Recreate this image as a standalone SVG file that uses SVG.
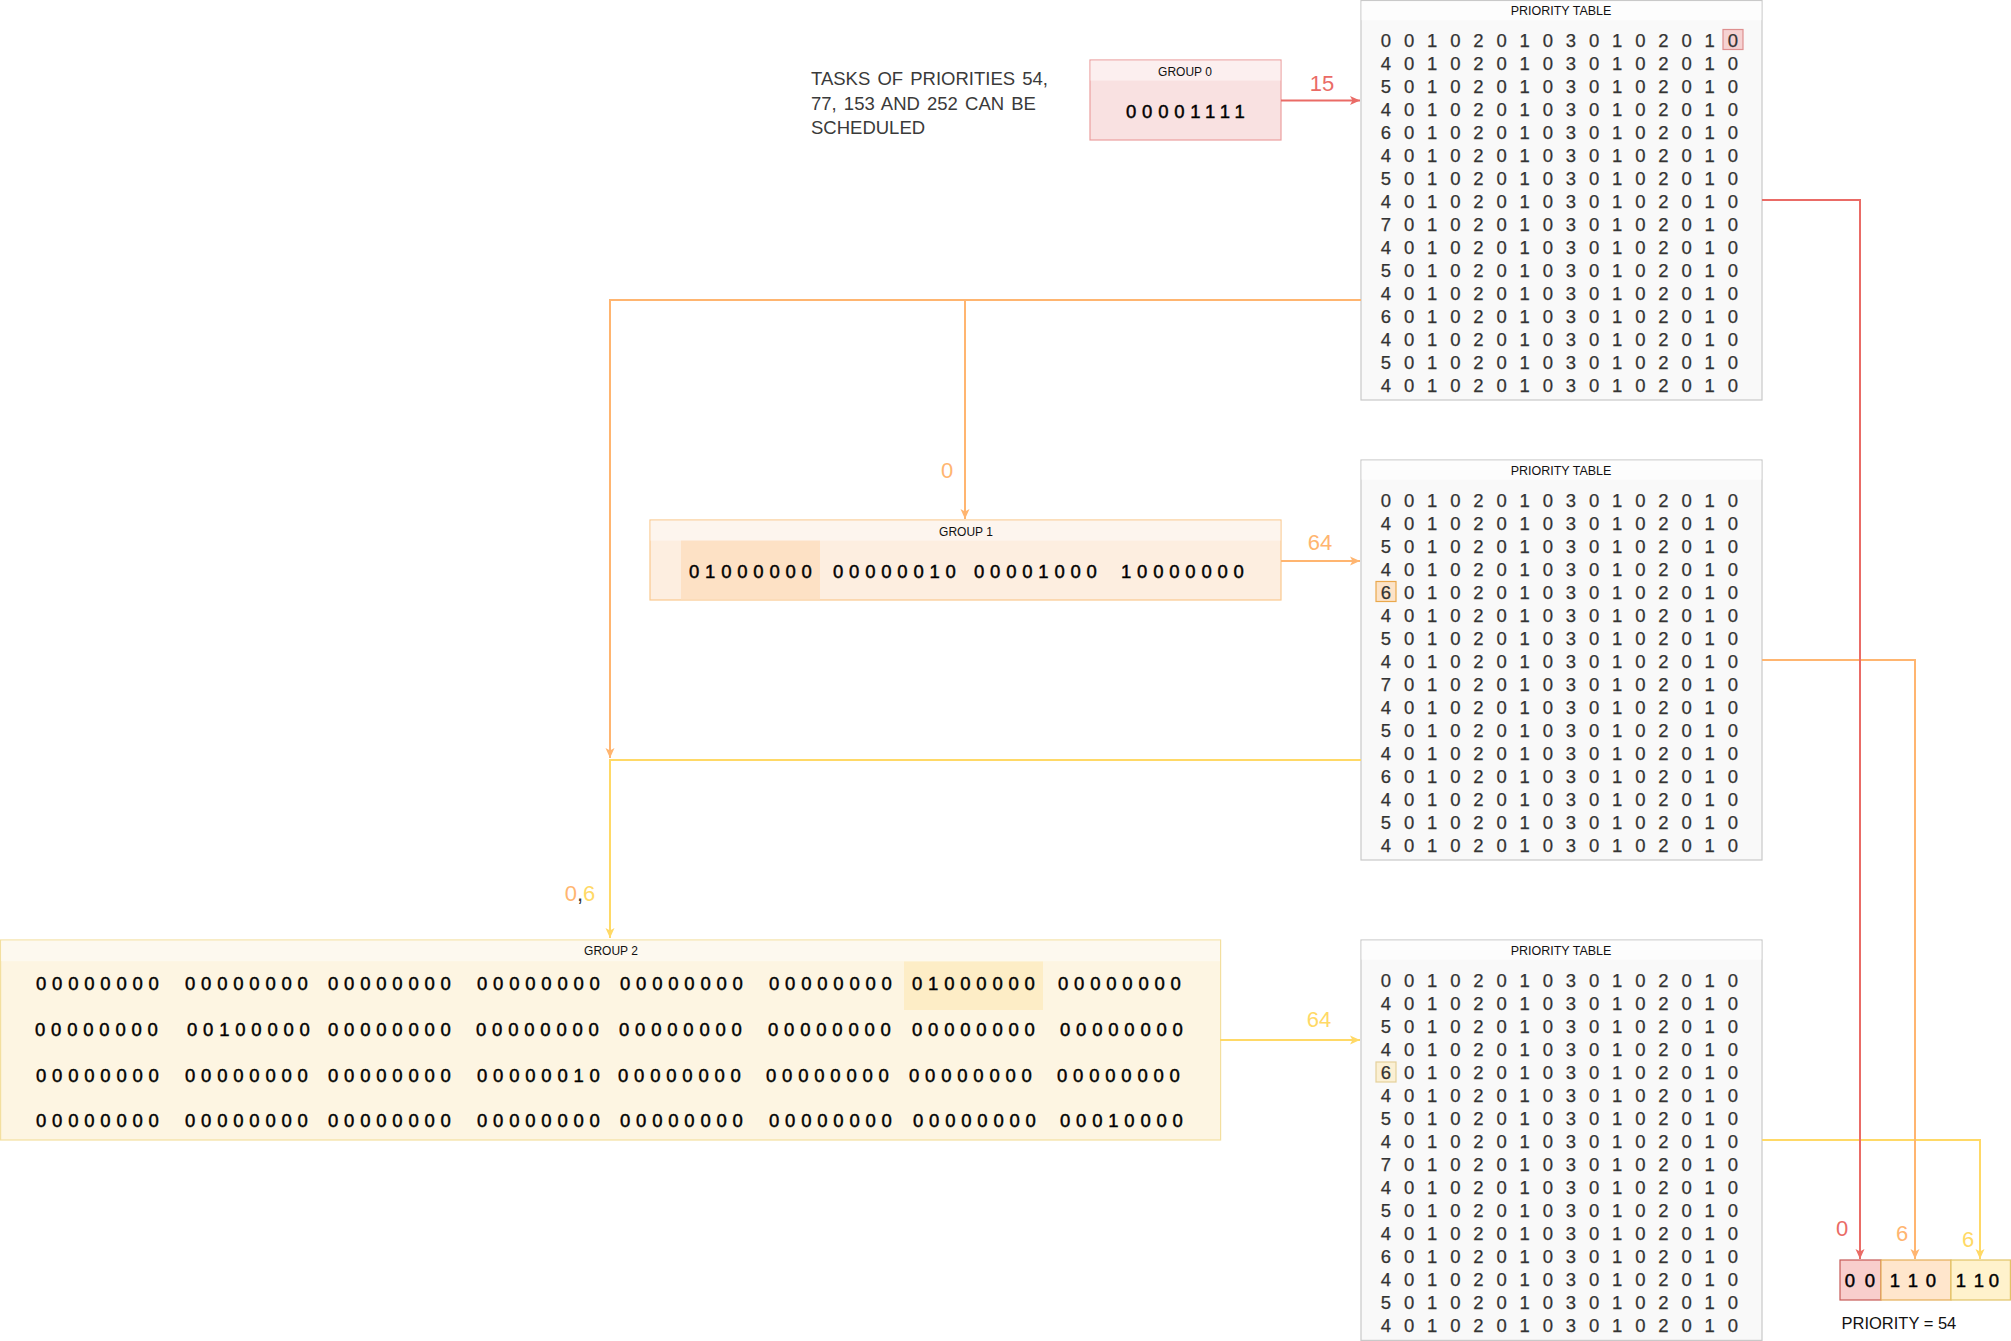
<svg xmlns="http://www.w3.org/2000/svg" width="2011" height="1341" viewBox="0 0 2011 1341">
<style>
text{font-family:"Liberation Sans",Arial,sans-serif}
.tbl{fill:#f9f9f9;stroke:#c9c9c9;stroke-width:1.2}
.tblh{fill:#fdfdfd}
.hdr{font-size:12.5px;fill:#111;text-anchor:middle}
.d{font-size:18.5px;fill:#333;text-anchor:middle;stroke:#333;stroke-width:0.25}
.bits{font-size:18.5px;fill:#000;letter-spacing:5.8px;stroke:#000;stroke-width:0.45}
.note{font-size:18.5px;fill:#3a3a3a;word-spacing:2px}
.lbl{font-size:22px;text-anchor:middle}
.cr{fill:none;stroke:#ea6b66;stroke-width:2}
.co{fill:none;stroke:#ffb570;stroke-width:2}
.cy{fill:none;stroke:#ffd966;stroke-width:2}
</style>
<defs>
<marker id="ar" viewBox="0 0 10 10" refX="10" refY="5" markerWidth="10" markerHeight="10" markerUnits="userSpaceOnUse" orient="auto"><path d="M0,0.5 L10,5 L0,9.5 L2.5,5 Z" fill="#ea6b66"/></marker>
<marker id="ao" viewBox="0 0 10 10" refX="10" refY="5" markerWidth="10" markerHeight="10" markerUnits="userSpaceOnUse" orient="auto"><path d="M0,0.5 L10,5 L0,9.5 L2.5,5 Z" fill="#ffb570"/></marker>
<marker id="ay" viewBox="0 0 10 10" refX="10" refY="5" markerWidth="10" markerHeight="10" markerUnits="userSpaceOnUse" orient="auto"><path d="M0,0.5 L10,5 L0,9.5 L2.5,5 Z" fill="#ffd966"/></marker>
</defs>
<rect width="2011" height="1341" fill="#ffffff"/>

<g id="note">
<text class="note" x="811" y="84.5">TASKS OF PRIORITIES 54,</text>
<text class="note" x="811" y="109.5">77, 153 AND 252 CAN BE</text>
<text class="note" x="811" y="134">SCHEDULED</text>
</g>

<g id="group0">
<rect x="1090" y="60" width="191" height="80" fill="#f9e1e1" stroke="#eb9e9e" stroke-width="1.2"/>
<rect x="1090.6" y="60.6" width="189.8" height="20" fill="#fcefef"/>
<text class="hdr" x="1185" y="76" style="font-size:12px">GROUP 0</text>
<text class="bits" x="1126" y="118.3">00001111</text>
</g>

<g id="group1">
<rect x="650" y="520" width="631" height="80" fill="#fdeee0" stroke="#fbc98e" stroke-width="1.2"/>
<rect x="650.6" y="520.6" width="629.8" height="20" fill="#fdf5ee"/>
<rect x="681" y="540.6" width="139" height="58.8" fill="#fde1c5"/>
<text class="hdr" x="966" y="536" style="font-size:12px">GROUP 1</text>
<text class="bits" x="689" y="578.3">01000000</text>
<text class="bits" x="833" y="578.3">00000010</text>
<text class="bits" x="974" y="578.3">00001000</text>
<text class="bits" x="1121" y="578.3">10000000</text>
</g>

<g id="group2">
<rect x="0.6" y="940" width="1220" height="200" fill="#fdf5e2" stroke="#f3df9f" stroke-width="1.2"/>
<rect x="1.2" y="940.6" width="1218.8" height="20.5" fill="#fdf9ef"/>
<rect x="904" y="961.5" width="139" height="48.5" fill="#fdedc6"/>
<text class="hdr" x="611" y="955" style="font-size:12px">GROUP 2</text>
<text class="bits" x="36" y="989.9">00000000</text>
<text class="bits" x="185" y="989.9">00000000</text>
<text class="bits" x="328" y="989.9">00000000</text>
<text class="bits" x="477" y="989.9">00000000</text>
<text class="bits" x="620" y="989.9">00000000</text>
<text class="bits" x="769" y="989.9">00000000</text>
<text class="bits" x="912" y="989.9">01000000</text>
<text class="bits" x="1058" y="989.9">00000000</text>
<text class="bits" x="35" y="1035.9">00000000</text>
<text class="bits" x="187" y="1035.9">00100000</text>
<text class="bits" x="328" y="1035.9">00000000</text>
<text class="bits" x="476" y="1035.9">00000000</text>
<text class="bits" x="619" y="1035.9">00000000</text>
<text class="bits" x="768" y="1035.9">00000000</text>
<text class="bits" x="912" y="1035.9">00000000</text>
<text class="bits" x="1060" y="1035.9">00000000</text>
<text class="bits" x="36" y="1081.6">00000000</text>
<text class="bits" x="185" y="1081.6">00000000</text>
<text class="bits" x="328" y="1081.6">00000000</text>
<text class="bits" x="477" y="1081.6">00000010</text>
<text class="bits" x="618" y="1081.6">00000000</text>
<text class="bits" x="766" y="1081.6">00000000</text>
<text class="bits" x="909" y="1081.6">00000000</text>
<text class="bits" x="1057" y="1081.6">00000000</text>
<text class="bits" x="36" y="1127.3">00000000</text>
<text class="bits" x="185" y="1127.3">00000000</text>
<text class="bits" x="328" y="1127.3">00000000</text>
<text class="bits" x="477" y="1127.3">00000000</text>
<text class="bits" x="620" y="1127.3">00000000</text>
<text class="bits" x="769" y="1127.3">00000000</text>
<text class="bits" x="913" y="1127.3">00000000</text>
<text class="bits" x="1060" y="1127.3">00010000</text>
</g>

<g id="table1">
<rect class="tbl" x="1361" y="0.6" width="401" height="399.4"/>
<rect class="tblh" x="1361.6" y="1.2" width="399.8" height="19"/>
<rect x="1723" y="29.5" width="20" height="20" fill="#f6d2d2" stroke="#de8f8f" stroke-width="1.2"/>
<text class="hdr" x="1561" y="15.2">PRIORITY TABLE</text>
<text class="d" x="1386 1409.1 1432.2 1455.4 1478.5 1501.6 1524.7 1547.8 1571 1594.1 1617.2 1640.3 1663.4 1686.6 1709.7 1732.8" y="46.6">0010201030102010</text>
<text class="d" x="1386 1409.1 1432.2 1455.4 1478.5 1501.6 1524.7 1547.8 1571 1594.1 1617.2 1640.3 1663.4 1686.6 1709.7 1732.8" y="69.7">4010201030102010</text>
<text class="d" x="1386 1409.1 1432.2 1455.4 1478.5 1501.6 1524.7 1547.8 1571 1594.1 1617.2 1640.3 1663.4 1686.6 1709.7 1732.8" y="92.7">5010201030102010</text>
<text class="d" x="1386 1409.1 1432.2 1455.4 1478.5 1501.6 1524.7 1547.8 1571 1594.1 1617.2 1640.3 1663.4 1686.6 1709.7 1732.8" y="115.8">4010201030102010</text>
<text class="d" x="1386 1409.1 1432.2 1455.4 1478.5 1501.6 1524.7 1547.8 1571 1594.1 1617.2 1640.3 1663.4 1686.6 1709.7 1732.8" y="138.8">6010201030102010</text>
<text class="d" x="1386 1409.1 1432.2 1455.4 1478.5 1501.6 1524.7 1547.8 1571 1594.1 1617.2 1640.3 1663.4 1686.6 1709.7 1732.8" y="161.9">4010201030102010</text>
<text class="d" x="1386 1409.1 1432.2 1455.4 1478.5 1501.6 1524.7 1547.8 1571 1594.1 1617.2 1640.3 1663.4 1686.6 1709.7 1732.8" y="184.9">5010201030102010</text>
<text class="d" x="1386 1409.1 1432.2 1455.4 1478.5 1501.6 1524.7 1547.8 1571 1594.1 1617.2 1640.3 1663.4 1686.6 1709.7 1732.8" y="208">4010201030102010</text>
<text class="d" x="1386 1409.1 1432.2 1455.4 1478.5 1501.6 1524.7 1547.8 1571 1594.1 1617.2 1640.3 1663.4 1686.6 1709.7 1732.8" y="231">7010201030102010</text>
<text class="d" x="1386 1409.1 1432.2 1455.4 1478.5 1501.6 1524.7 1547.8 1571 1594.1 1617.2 1640.3 1663.4 1686.6 1709.7 1732.8" y="254.1">4010201030102010</text>
<text class="d" x="1386 1409.1 1432.2 1455.4 1478.5 1501.6 1524.7 1547.8 1571 1594.1 1617.2 1640.3 1663.4 1686.6 1709.7 1732.8" y="277.1">5010201030102010</text>
<text class="d" x="1386 1409.1 1432.2 1455.4 1478.5 1501.6 1524.7 1547.8 1571 1594.1 1617.2 1640.3 1663.4 1686.6 1709.7 1732.8" y="300.2">4010201030102010</text>
<text class="d" x="1386 1409.1 1432.2 1455.4 1478.5 1501.6 1524.7 1547.8 1571 1594.1 1617.2 1640.3 1663.4 1686.6 1709.7 1732.8" y="323.2">6010201030102010</text>
<text class="d" x="1386 1409.1 1432.2 1455.4 1478.5 1501.6 1524.7 1547.8 1571 1594.1 1617.2 1640.3 1663.4 1686.6 1709.7 1732.8" y="346.3">4010201030102010</text>
<text class="d" x="1386 1409.1 1432.2 1455.4 1478.5 1501.6 1524.7 1547.8 1571 1594.1 1617.2 1640.3 1663.4 1686.6 1709.7 1732.8" y="369.3">5010201030102010</text>
<text class="d" x="1386 1409.1 1432.2 1455.4 1478.5 1501.6 1524.7 1547.8 1571 1594.1 1617.2 1640.3 1663.4 1686.6 1709.7 1732.8" y="392.4">4010201030102010</text>
</g>

<g id="table2">
<rect class="tbl" x="1361" y="460" width="401" height="400"/>
<rect class="tblh" x="1361.6" y="460.6" width="399.8" height="19"/>
<rect x="1376" y="581.5" width="20" height="20" fill="#fce3c8" stroke="#eaa84c" stroke-width="1.2"/>
<text class="hdr" x="1561" y="475.2">PRIORITY TABLE</text>
<text class="d" x="1386 1409.1 1432.2 1455.4 1478.5 1501.6 1524.7 1547.8 1571 1594.1 1617.2 1640.3 1663.4 1686.6 1709.7 1732.8" y="506.6">0010201030102010</text>
<text class="d" x="1386 1409.1 1432.2 1455.4 1478.5 1501.6 1524.7 1547.8 1571 1594.1 1617.2 1640.3 1663.4 1686.6 1709.7 1732.8" y="529.7">4010201030102010</text>
<text class="d" x="1386 1409.1 1432.2 1455.4 1478.5 1501.6 1524.7 1547.8 1571 1594.1 1617.2 1640.3 1663.4 1686.6 1709.7 1732.8" y="552.7">5010201030102010</text>
<text class="d" x="1386 1409.1 1432.2 1455.4 1478.5 1501.6 1524.7 1547.8 1571 1594.1 1617.2 1640.3 1663.4 1686.6 1709.7 1732.8" y="575.8">4010201030102010</text>
<text class="d" x="1386 1409.1 1432.2 1455.4 1478.5 1501.6 1524.7 1547.8 1571 1594.1 1617.2 1640.3 1663.4 1686.6 1709.7 1732.8" y="598.8">6010201030102010</text>
<text class="d" x="1386 1409.1 1432.2 1455.4 1478.5 1501.6 1524.7 1547.8 1571 1594.1 1617.2 1640.3 1663.4 1686.6 1709.7 1732.8" y="621.9">4010201030102010</text>
<text class="d" x="1386 1409.1 1432.2 1455.4 1478.5 1501.6 1524.7 1547.8 1571 1594.1 1617.2 1640.3 1663.4 1686.6 1709.7 1732.8" y="644.9">5010201030102010</text>
<text class="d" x="1386 1409.1 1432.2 1455.4 1478.5 1501.6 1524.7 1547.8 1571 1594.1 1617.2 1640.3 1663.4 1686.6 1709.7 1732.8" y="668">4010201030102010</text>
<text class="d" x="1386 1409.1 1432.2 1455.4 1478.5 1501.6 1524.7 1547.8 1571 1594.1 1617.2 1640.3 1663.4 1686.6 1709.7 1732.8" y="691">7010201030102010</text>
<text class="d" x="1386 1409.1 1432.2 1455.4 1478.5 1501.6 1524.7 1547.8 1571 1594.1 1617.2 1640.3 1663.4 1686.6 1709.7 1732.8" y="714.1">4010201030102010</text>
<text class="d" x="1386 1409.1 1432.2 1455.4 1478.5 1501.6 1524.7 1547.8 1571 1594.1 1617.2 1640.3 1663.4 1686.6 1709.7 1732.8" y="737.1">5010201030102010</text>
<text class="d" x="1386 1409.1 1432.2 1455.4 1478.5 1501.6 1524.7 1547.8 1571 1594.1 1617.2 1640.3 1663.4 1686.6 1709.7 1732.8" y="760.2">4010201030102010</text>
<text class="d" x="1386 1409.1 1432.2 1455.4 1478.5 1501.6 1524.7 1547.8 1571 1594.1 1617.2 1640.3 1663.4 1686.6 1709.7 1732.8" y="783.2">6010201030102010</text>
<text class="d" x="1386 1409.1 1432.2 1455.4 1478.5 1501.6 1524.7 1547.8 1571 1594.1 1617.2 1640.3 1663.4 1686.6 1709.7 1732.8" y="806.3">4010201030102010</text>
<text class="d" x="1386 1409.1 1432.2 1455.4 1478.5 1501.6 1524.7 1547.8 1571 1594.1 1617.2 1640.3 1663.4 1686.6 1709.7 1732.8" y="829.3">5010201030102010</text>
<text class="d" x="1386 1409.1 1432.2 1455.4 1478.5 1501.6 1524.7 1547.8 1571 1594.1 1617.2 1640.3 1663.4 1686.6 1709.7 1732.8" y="852.4">4010201030102010</text>
</g>

<g id="table3">
<rect class="tbl" x="1361" y="940" width="401" height="400.4"/>
<rect class="tblh" x="1361.6" y="940.6" width="399.8" height="19"/>
<rect x="1376" y="1062" width="20" height="20" fill="#fbf0d4" stroke="#e4d09a" stroke-width="1.2"/>
<text class="hdr" x="1561" y="955.2">PRIORITY TABLE</text>
<text class="d" x="1386 1409.1 1432.2 1455.4 1478.5 1501.6 1524.7 1547.8 1571 1594.1 1617.2 1640.3 1663.4 1686.6 1709.7 1732.8" y="986.6">0010201030102010</text>
<text class="d" x="1386 1409.1 1432.2 1455.4 1478.5 1501.6 1524.7 1547.8 1571 1594.1 1617.2 1640.3 1663.4 1686.6 1709.7 1732.8" y="1009.7">4010201030102010</text>
<text class="d" x="1386 1409.1 1432.2 1455.4 1478.5 1501.6 1524.7 1547.8 1571 1594.1 1617.2 1640.3 1663.4 1686.6 1709.7 1732.8" y="1032.7">5010201030102010</text>
<text class="d" x="1386 1409.1 1432.2 1455.4 1478.5 1501.6 1524.7 1547.8 1571 1594.1 1617.2 1640.3 1663.4 1686.6 1709.7 1732.8" y="1055.8">4010201030102010</text>
<text class="d" x="1386 1409.1 1432.2 1455.4 1478.5 1501.6 1524.7 1547.8 1571 1594.1 1617.2 1640.3 1663.4 1686.6 1709.7 1732.8" y="1078.8">6010201030102010</text>
<text class="d" x="1386 1409.1 1432.2 1455.4 1478.5 1501.6 1524.7 1547.8 1571 1594.1 1617.2 1640.3 1663.4 1686.6 1709.7 1732.8" y="1101.9">4010201030102010</text>
<text class="d" x="1386 1409.1 1432.2 1455.4 1478.5 1501.6 1524.7 1547.8 1571 1594.1 1617.2 1640.3 1663.4 1686.6 1709.7 1732.8" y="1124.9">5010201030102010</text>
<text class="d" x="1386 1409.1 1432.2 1455.4 1478.5 1501.6 1524.7 1547.8 1571 1594.1 1617.2 1640.3 1663.4 1686.6 1709.7 1732.8" y="1148">4010201030102010</text>
<text class="d" x="1386 1409.1 1432.2 1455.4 1478.5 1501.6 1524.7 1547.8 1571 1594.1 1617.2 1640.3 1663.4 1686.6 1709.7 1732.8" y="1171">7010201030102010</text>
<text class="d" x="1386 1409.1 1432.2 1455.4 1478.5 1501.6 1524.7 1547.8 1571 1594.1 1617.2 1640.3 1663.4 1686.6 1709.7 1732.8" y="1194.1">4010201030102010</text>
<text class="d" x="1386 1409.1 1432.2 1455.4 1478.5 1501.6 1524.7 1547.8 1571 1594.1 1617.2 1640.3 1663.4 1686.6 1709.7 1732.8" y="1217.1">5010201030102010</text>
<text class="d" x="1386 1409.1 1432.2 1455.4 1478.5 1501.6 1524.7 1547.8 1571 1594.1 1617.2 1640.3 1663.4 1686.6 1709.7 1732.8" y="1240.2">4010201030102010</text>
<text class="d" x="1386 1409.1 1432.2 1455.4 1478.5 1501.6 1524.7 1547.8 1571 1594.1 1617.2 1640.3 1663.4 1686.6 1709.7 1732.8" y="1263.2">6010201030102010</text>
<text class="d" x="1386 1409.1 1432.2 1455.4 1478.5 1501.6 1524.7 1547.8 1571 1594.1 1617.2 1640.3 1663.4 1686.6 1709.7 1732.8" y="1286.3">4010201030102010</text>
<text class="d" x="1386 1409.1 1432.2 1455.4 1478.5 1501.6 1524.7 1547.8 1571 1594.1 1617.2 1640.3 1663.4 1686.6 1709.7 1732.8" y="1309.3">5010201030102010</text>
<text class="d" x="1386 1409.1 1432.2 1455.4 1478.5 1501.6 1524.7 1547.8 1571 1594.1 1617.2 1640.3 1663.4 1686.6 1709.7 1732.8" y="1332.4">4010201030102010</text>
</g>

<g id="result">
<rect x="1840" y="1260" width="41" height="40" fill="#f8cecc" stroke="#c65a56" stroke-width="1.2"/>
<rect x="1881" y="1260" width="70" height="40" fill="#ffe6cc" stroke="#e5ad55" stroke-width="1.2"/>
<rect x="1951" y="1260" width="59.4" height="40" fill="#fff2cc" stroke="#e2c466" stroke-width="1.2"/>
<text class="d" style="fill:#000;stroke:#000;stroke-width:0.45" x="1850 1870" y="1286.6">00</text>
<text class="d" style="fill:#000;stroke:#000;stroke-width:0.45" x="1895 1913 1931" y="1286.6">110</text>
<text class="d" style="fill:#000;stroke:#000;stroke-width:0.45" x="1961 1979 1994" y="1286.6">110</text>
<text x="1841.5" y="1328.5" style="font-size:16.5px;fill:#111">PRIORITY = 54</text>
</g>

<g id="connectors">
<path class="cy" d="M1361,760 H610 V938" marker-end="url(#ay)"/>
<path class="cy" d="M1220,1040 H1360" marker-end="url(#ay)"/>
<path class="cy" d="M1762,1140 H1980 V1259" marker-end="url(#ay)"/>
<path class="co" d="M1361,300 H610 V758" marker-end="url(#ao)"/>
<path class="co" d="M1361,300 H965 V519" marker-end="url(#ao)"/>
<path class="co" d="M1281,561 H1360" marker-end="url(#ao)"/>
<path class="co" d="M1762,660 H1915 V1259" marker-end="url(#ao)"/>
<path class="cr" d="M1281,100.5 H1360" marker-end="url(#ar)"/>
<path class="cr" d="M1762,200 H1860 V1259" marker-end="url(#ar)"/>
<text class="lbl" x="1322" y="90.5" fill="#ea6b66">15</text>
<text class="lbl" x="1320" y="549.5" fill="#ffb570">64</text>
<text class="lbl" x="1319" y="1027" fill="#ffd966">64</text>
<text class="lbl" x="947" y="478" fill="#ffb570">0</text>
<text class="lbl" x="580" y="901"><tspan fill="#ffb570">0</tspan><tspan fill="#333">,</tspan><tspan fill="#ffd966">6</tspan></text>
<text class="lbl" x="1842" y="1236" fill="#ea6b66">0</text>
<text class="lbl" x="1902" y="1240.5" fill="#ffb570">6</text>
<text class="lbl" x="1968" y="1246.5" fill="#ffd966">6</text>
</g>
</svg>
